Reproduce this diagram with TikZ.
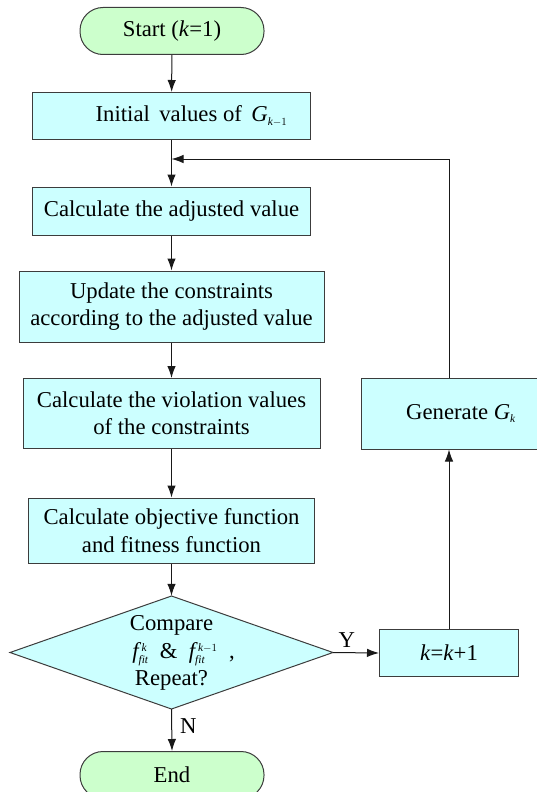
\documentclass[tikz,border=0pt]{standalone}
\usepackage{fontspec}
\setmainfont{Liberation Serif}
\usetikzlibrary{arrows.meta}
\definecolor{boxcyan}{RGB}{204,255,255}
\definecolor{boxgreen}{RGB}{204,255,204}
\definecolor{edgegray}{RGB}{60,60,60}
\newcommand{\vi}[1]{\mathit{#1}}
\newcommand{\ssc}[1]{{\scriptscriptstyle #1}}
\begin{document}
\begin{tikzpicture}[x=1pt,y=-1pt,
  font=\fontsize{22.7}{27.4}\selectfont,
  procbox/.style={draw=edgegray, line width=1pt, fill=boxcyan, inner sep=0pt, align=center},
  termbox/.style={draw=edgegray, line width=1pt, fill=boxgreen, inner sep=0pt, rounded corners=23pt, minimum width=184pt, minimum height=47pt},
  conn/.style={draw=black!90, line width=1pt, -{Latex[length=12pt,width=8.5pt]}},
  plainline/.style={draw=black!90, line width=1pt},
  lbl/.style={inner sep=0pt}
]
\useasboundingbox (0,0) rectangle (536,792);

\node[termbox] (start) at (172,31) {Start (\textit{k}=1)};
\node[procbox, minimum width=277.5pt, minimum height=47pt] (init) at (171.5,116) {\hspace*{40pt}Initial\, values of\, $\vi{G}_{\ssc{\vi{k}-1}}$};
\node[procbox, minimum width=277.5pt, minimum height=48pt] (adj) at (171.5,211) {Calculate the adjusted value};
\node[procbox, minimum width=305pt, minimum height=71pt] (upd) at (171.5,306.5) {Update the constraints\\according to the adjusted value};
\node[procbox, minimum width=297pt, minimum height=70pt] (vio) at (171.5,413.5) {Calculate the violation values\\of the constraints};
\node[procbox, minimum width=286.5pt, minimum height=65pt] (obj) at (171.5,530.5) {Calculate objective function\\and fitness function};

\path[draw=edgegray, line width=1pt, fill=boxcyan] (171.5,596) -- (333,652.5) -- (171.5,709) -- (10,652.5) -- cycle;
\node[inner sep=0pt, minimum width=323pt, minimum height=113pt, align=center] (dec) at (171.5,652.5)
  {Compare\\[1pt]\hspace*{24pt}$\vi{f}^{\,\ssc{\vi{k}}}_{\ssc{\vi{fit}}}$\ \ \& \ $\vi{f}^{\,\ssc{\vi{k}-1}}_{\ssc{\vi{fit}}}$\ \ ,\\[-1pt]Repeat?};

\node[procbox, minimum width=139pt, minimum height=47pt] (kbox) at (449,653) {\textit{k}=\textit{k}+1};
\node[procbox, minimum width=176pt, minimum height=71pt] (gen) at (449,413.5) {\hspace*{24pt}Generate $\vi{G}_{\ssc{\vi{k}}}$};

\node[termbox] (end) at (172,775) {End};

\coordinate (loopin) at (171.5,159);
\coordinate (loopcorner) at (449,159);

\draw[conn] (start) -- (init);
\draw[conn] (init) -- (adj);
\draw[conn] (adj) -- (upd);
\draw[conn] (upd) -- (vio);
\draw[conn] (vio) -- (obj);
\draw[conn] (obj.south) -- (dec.north);
\draw[conn] (dec.east) -- node[lbl, above=5pt, pos=0.3] {Y} (kbox.west);
\draw[conn] (dec.south) -- node[lbl, right=8pt, pos=0.4] {N} (end.north);
\draw[conn] (kbox.north) -- (gen.south);
\draw[plainline] (gen.north) -- (loopcorner);
\draw[conn] (loopcorner) -- (loopin);
\end{tikzpicture}
\end{document}
